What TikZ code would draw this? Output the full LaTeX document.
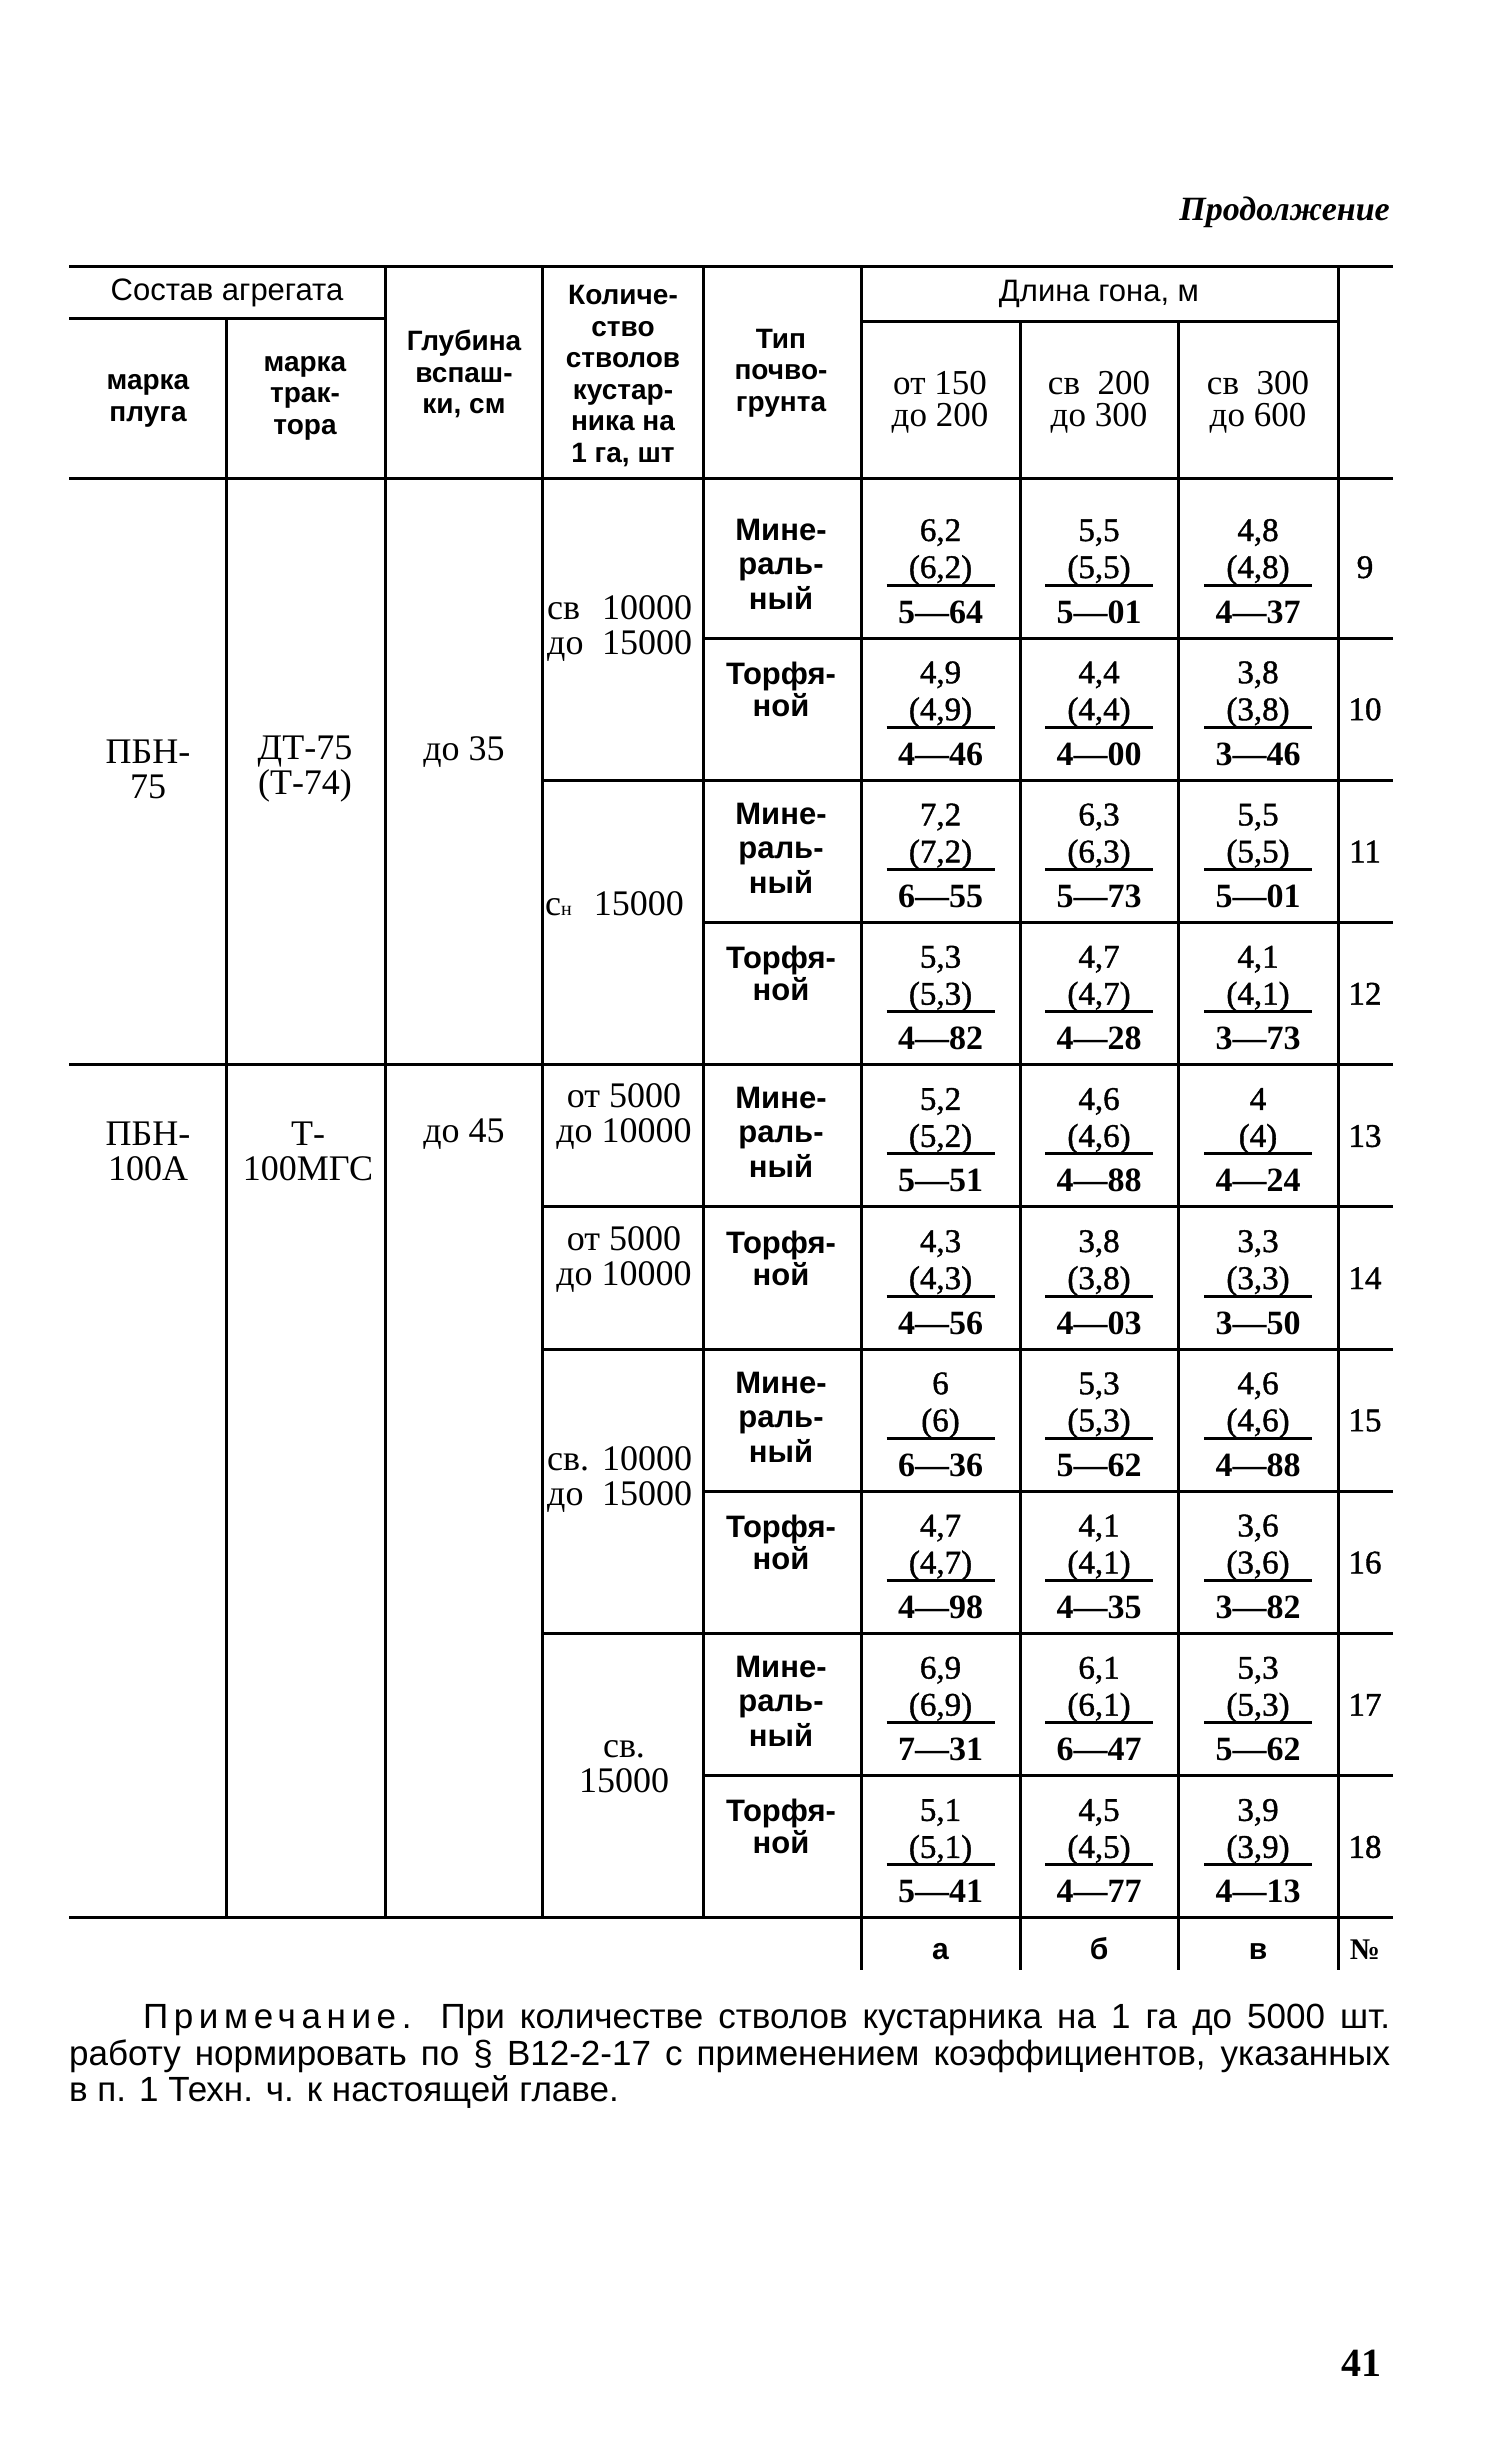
\documentclass[tikz,border=0pt]{standalone}
\usepackage{fontspec}
\setmainfont{Liberation Serif}
\newfontfamily\hsans{Liberation Sans}
\newfontfamily\numf[FakeBold=1.2]{Liberation Serif}
\begin{document}
\begin{tikzpicture}[x=1pt,y=-1pt,
  rl/.style={line width=3pt},
  frule/.style={line width=3pt},
  hd/.style={font=\hsans\bfseries\fontsize{28}{31.5}\selectfont, align=center, inner sep=0pt},
  hdl/.style={font=\hsans\fontsize{31}{31.5}\selectfont, align=center, inner sep=0pt},
  sr/.style={font=\fontsize{36}{35}\selectfont, align=center, inner sep=0pt},
  hr/.style={font=\fontsize{35}{31.5}\selectfont, align=center, inner sep=0pt},
  nv/.style={font=\numf\fontsize{33}{33}\selectfont, anchor=base, inner sep=0pt},
  nb/.style={font=\bfseries\fontsize{34}{34}\selectfont, anchor=base, inner sep=0pt},
  soil/.style={font=\hsans\bfseries\fontsize{31}{36}\selectfont, anchor=base, inner sep=0pt},
  lab/.style={font=\hsans\bfseries\fontsize{30}{30}\selectfont, anchor=base, inner sep=0pt}
]
\fill[white] (0,0) rectangle (1503,2464);
\useasboundingbox (0,0) rectangle (1503,2464);

% page header
\node[font=\bfseries\itshape\fontsize{34}{34}\selectfont, anchor=east, inner sep=0pt] (cont) at (1390,212) {Продолжение};

% table rules
\draw[rl] (69,267) -- (1393,267);
\draw[rl] (69,319) -- (385,319);
\draw[rl] (861,322) -- (1338,322);
\draw[rl] (69,478) -- (1393,478);
\foreach \y/\xs in {638/703, 780.2/542, 922.4/703, 1064.6/69, 1206.8/542, 1349/542, 1491.2/703, 1633.4/542, 1775.6/703, 1917.8/69}
  \draw[rl] (\xs,\y) -- (1393,\y);
\draw[rl] (226,319) -- (226,1918);
\draw[rl] (385,267) -- (385,1918);
\draw[rl] (542,267) -- (542,1918);
\draw[rl] (703,267) -- (703,1918);
\draw[rl] (861,267) -- (861,1970);
\draw[rl] (1020,322) -- (1020,1970);
\draw[rl] (1178,322) -- (1178,1970);
\draw[rl] (1338,267) -- (1338,1970);

% header texts
\node[hdl] (sostav) at (227,293) {Состав агрегата};
\node[hd] (plug) at (148,401) {марка\\плуга};
\node[hd] (trakt) at (305,398) {марка\\трак-\\тора};
\node[hd] (glub) at (464,374) {Глубина\\вспаш-\\ки, см};
\node[hd] (kol) at (623,376) {Количе-\\ство\\стволов\\кустар-\\ника на\\1 га, шт};
\node[hd] (tip) at (781,373) {Тип\\почво-\\грунта};
\node[hdl] (dlina) at (1099,294) {Длина гона, м};
\node[hr] (d1) at (940,402) {от 150\\до 200};
\node[hr] (d2) at (1099,402) {св\ \ 200\\до 300};
\node[hr] (d3) at (1258,402) {св\ \ 300\\до 600};

% left block texts
\node[sr] (p75) at (148,769) {ПБН-\\75};
\node[sr] (dt75) at (305,769) {ДТ-75\\(Т-74)};
\node[sr] (g35) at (464,752) {до 35};
\node[sr, anchor=west, align=left] (k1) at (547,629) {\makebox[145pt][s]{св 10000}\\\makebox[145pt][s]{до 15000}};
\node[sr, anchor=west, align=left] (k2) at (545,904) {с{\fontsize{20}{20}\selectfont н}\hspace{22pt}15000};
\node[sr] (p100) at (148,1151) {ПБН-\\100А};
\node[sr] (t100) at (308,1151) {Т-\\100МГС};
\node[sr] (g45) at (464,1134) {до 45};
\node[sr] (k3) at (624,1116) {от 5000\\до 10000};
\node[sr] (k4) at (624,1259) {от 5000\\до 10000};
\node[sr, anchor=west, align=left] (k5) at (547,1479) {\makebox[145pt][s]{св. 10000}\\\makebox[145pt][s]{до 15000}};
\node[sr] (k6) at (624,1767) {св.\\15000};

% data rows
\foreach \n/\ta/\ba/\tb/\bb/\tc/\bc in {
  9/6{,}2/5—64/5{,}5/5—01/4{,}8/4—37,
  10/4{,}9/4—46/4{,}4/4—00/3{,}8/3—46,
  11/7{,}2/6—55/6{,}3/5—73/5{,}5/5—01,
  12/5{,}3/4—82/4{,}7/4—28/4{,}1/3—73,
  13/5{,}2/5—51/4{,}6/4—88/4/4—24,
  14/4{,}3/4—56/3{,}8/4—03/3{,}3/3—50,
  15/6/6—36/5{,}3/5—62/4{,}6/4—88,
  16/4{,}7/4—98/4{,}1/4—35/3{,}6/3—82,
  17/6{,}9/7—31/6{,}1/6—47/5{,}3/5—62,
  18/5{,}1/5—41/4{,}5/4—77/3{,}9/4—13}
{
  \pgfmathsetmacro{\B}{638+(\n-9)*142.2}
  \foreach \cx/\L/\t/\b in {940.5/a/\ta/\ba, 1099/b/\tb/\bb, 1258/c/\tc/\bc}
  {
    \node[nv] (t\n\L) at (\cx,\B-97) {\t};
    \node[nv] (m\n\L) at (\cx,\B-60) {(\t)};
    \node[nb] (b\n\L) at (\cx,\B-15) {\b};
    \draw[frule] (\cx-54,\B-53) -- (\cx+54,\B-53);
  }
  \node[nv] (no\n) at (1365,\B-60) {\n};
  \ifodd\n
    \node[soil] (s\n a) at (781,\B-98) {Мине-};
    \node[soil] (s\n b) at (781,\B-64) {раль-};
    \node[soil] (s\n c) at (781,\B-29) {ный};
  \else
    \node[soil] (s\n a) at (781,\B-96) {Торфя-};
    \node[soil] (s\n b) at (781,\B-64) {ной};
  \fi
}

% bottom labels
\node[lab] (la) at (940.5,1959) {а};
\node[lab] (lb) at (1099,1959) {б};
\node[lab] (lc) at (1258,1959) {в};
\node[font=\bfseries\fontsize{30}{30}\selectfont, anchor=base, inner sep=0pt] (lno) at (1365,1959) {№};

% note
\node[font=\hsans\fontsize{35}{36.5}\selectfont, text width=1321pt, align=justify, anchor=north west, inner sep=0pt] (note) at (69,2004)
{\hspace*{74pt}{\addfontfeatures{LetterSpace=16}Примечание.} При количестве стволов кустарника на 1 га до 5000 шт.\linebreak
работу нормировать по § В12-2-17 с применением коэффициентов, указанных\linebreak
в п. 1 Техн. ч. к настоящей главе.};

% page number
\node[font=\bfseries\fontsize{40}{40}\selectfont, inner sep=0pt] (pg) at (1361,2363) {41};
\end{tikzpicture}
\end{document}
